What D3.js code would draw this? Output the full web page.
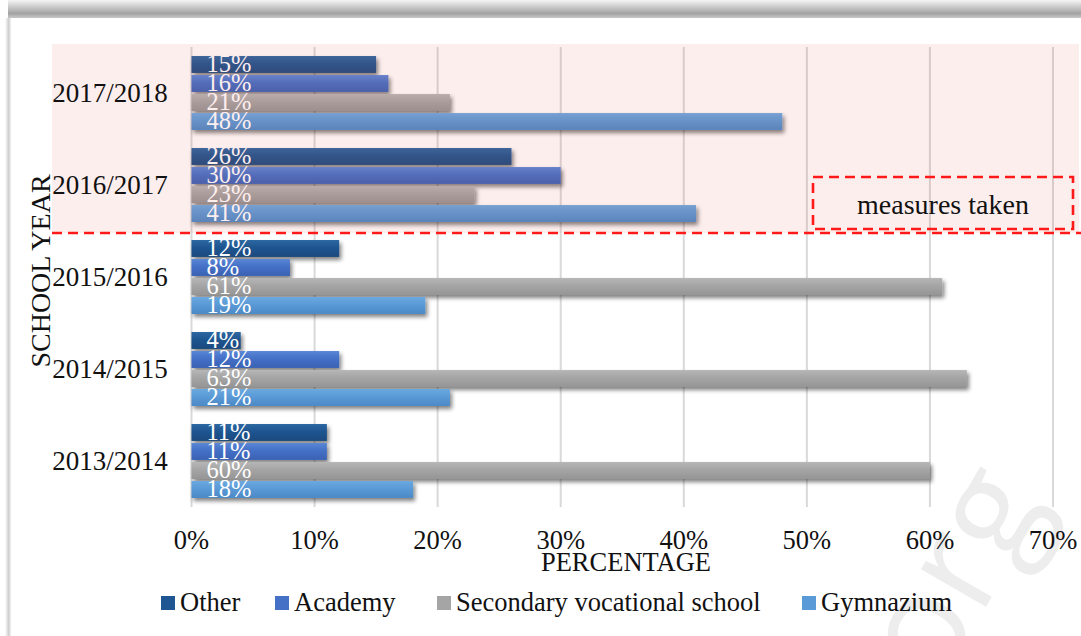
<!DOCTYPE html>
<html>
<head>
<meta charset="utf-8">
<script src="https://cdn.jsdelivr.net/npm/d3@7"></script>
<style>
  html, body { margin: 0; padding: 0; background: #fff; }
  svg { display: block; }
  text.serif { font-family: "Liberation Serif", "Times New Roman", serif; }
</style>
</head>
<body>
<svg id="chart" width="1081" height="636"></svg>
<script>
// School years, listed oldest first
const years = ["2013/2014", "2014/2015", "2015/2016", "2016/2017", "2017/2018"];
// Share of pupils per school type, in percent
const other      = [11, 4, 12, 26, 15];
const academy    = [11, 12, 8, 30, 16];
const vocational = [60, 63, 61, 23, 21];
const gymnazium  = [18, 21, 19, 41, 48];

const seriesNames  = ["Other", "Academy", "Secondary vocational school", "Gymnazium"];
const seriesValues = [other, academy, vocational, gymnazium];
const tickValues   = [0, 10, 20, 30, 40, 50, 60, 70];
const highlightedYears = ["2016/2017", "2017/2018"];
const noteText = "measures taken";

const colors = {
  "Other":                       ["#2c67a0", "#1f5590", "#1a4a7e"],
  "Academy":                     ["#5a86d6", "#4470c6", "#3a62b3"],
  "Secondary vocational school": ["#b6b6b6", "#a5a5a5", "#959595"],
  "Gymnazium":                   ["#6aa8e0", "#5a9ad6", "#4b89c6"]
};

const svg = d3.select("#chart");
const defs = svg.append("defs");

// frame: soft grey band on top and thin shadow line on the left
const topGrad = defs.append("linearGradient").attr("id", "topband")
  .attr("x1", 0).attr("y1", 0).attr("x2", 0).attr("y2", 1);
topGrad.append("stop").attr("offset", "0%").attr("stop-color", "#f4f4f4");
topGrad.append("stop").attr("offset", "75%").attr("stop-color", "#a2a2a2");
topGrad.append("stop").attr("offset", "100%").attr("stop-color", "#c8c8c8");
const leftGrad = defs.append("linearGradient").attr("id", "leftband")
  .attr("x1", 0).attr("y1", 0).attr("x2", 1).attr("y2", 0);
leftGrad.append("stop").attr("offset", "0%").attr("stop-color", "#ffffff");
leftGrad.append("stop").attr("offset", "60%").attr("stop-color", "#cfcfcf");
leftGrad.append("stop").attr("offset", "100%").attr("stop-color", "#f2f2f2");

// bar gradients
seriesNames.forEach((name, i) => {
  const g = defs.append("linearGradient").attr("id", "bar" + i)
    .attr("x1", 0).attr("y1", 0).attr("x2", 0).attr("y2", 1);
  g.append("stop").attr("offset", "0%").attr("stop-color", colors[name][0]);
  g.append("stop").attr("offset", "45%").attr("stop-color", colors[name][1]);
  g.append("stop").attr("offset", "100%").attr("stop-color", colors[name][2]);
});

// drop shadow under bars
const shadow = defs.append("filter").attr("id", "shadow")
  .attr("x", "-5%").attr("y", "-30%").attr("width", "115%").attr("height", "180%");
shadow.append("feGaussianBlur").attr("in", "SourceAlpha").attr("stdDeviation", 2).attr("result", "blur");
shadow.append("feOffset").attr("in", "blur").attr("dx", 2).attr("dy", 3).attr("result", "off");
shadow.append("feComponentTransfer").attr("in", "off").attr("result", "shade")
  .append("feFuncA").attr("type", "linear").attr("slope", 0.5);
const merge = shadow.append("feMerge");
merge.append("feMergeNode").attr("in", "shade");
merge.append("feMergeNode").attr("in", "SourceGraphic");

// watermark
svg.append("text")
  .attr("transform", "translate(938,690) rotate(-60)")
  .style("font-family", "'Open Sans', sans-serif")
  .attr("font-size", 140)
  .attr("fill", "#ededed")
  .text("org");

svg.append("rect").attr("x", 8).attr("y", 0).attr("width", 1073).attr("height", 18).attr("fill", "url(#topband)");
svg.append("rect").attr("x", 5).attr("y", 18).attr("width", 6).attr("height", 618).attr("fill", "url(#leftband)");

// scales
const x = d3.scaleLinear().domain([0, 70]).range([191.5, 1053]);
const y = d3.scaleBand().domain(years.slice().reverse()).range([47, 507])
  .paddingInner(0.196).paddingOuter(0.098);
const ySub = d3.scaleBand().domain(seriesNames).range([0, y.bandwidth()]).paddingInner(0.11);

// gridlines
svg.append("g").selectAll("line").data(tickValues).join("line")
  .attr("x1", d => x(d)).attr("x2", d => x(d))
  .attr("y1", 47).attr("y2", 507)
  .attr("stroke", "#d9d9d9").attr("stroke-width", 2);

// bars
const groups = svg.append("g").selectAll("g").data(years).join("g")
  .attr("transform", d => `translate(0,${y(d)})`);

groups.selectAll("rect")
  .data(yr => seriesNames.map((s, si) => ({ s, si, v: seriesValues[si][years.indexOf(yr)] })))
  .join("rect")
  .attr("x", x(0))
  .attr("y", d => ySub(d.s))
  .attr("width", d => x(d.v) - x(0))
  .attr("height", ySub.bandwidth())
  .attr("fill", d => `url(#bar${d.si})`)
  .attr("filter", "url(#shadow)");

// tinted area marking the years after the measures
const hlBottom = y(highlightedYears[0]) + y.bandwidth() + y.step() * y.paddingInner() * 0.5 + 2;
svg.append("rect")
  .attr("x", 52).attr("y", 44).attr("width", 1027).attr("height", hlBottom - 44)
  .attr("fill", "rgb(235,85,85)").attr("fill-opacity", 0.1);

svg.append("line")
  .attr("x1", 52).attr("x2", 1081).attr("y1", hlBottom).attr("y2", hlBottom)
  .attr("stroke", "#ff1a1a").attr("stroke-width", 2.6).attr("stroke-dasharray", "10,6");

// value labels at the base of each bar
groups.selectAll("text.val")
  .data(yr => seriesNames.map((s, si) => ({ s, v: seriesValues[si][years.indexOf(yr)] })))
  .join("text").attr("class", "val serif")
  .attr("x", x(0) + 15)
  .attr("y", d => ySub(d.s) + ySub.bandwidth() - 0.5)
  .attr("font-size", 24.5)
  .attr("fill", "#ffffff")
  .text(d => d.v + "%");

// category labels
svg.append("g").selectAll("text").data(years).join("text").attr("class", "serif")
  .attr("x", 110).attr("y", d => y(d) + y.bandwidth() / 2 + 9)
  .attr("text-anchor", "middle").attr("font-size", 27).attr("fill", "#111")
  .text(d => d);

// x tick labels
svg.append("g").selectAll("text").data(tickValues).join("text").attr("class", "serif")
  .attr("x", d => x(d)).attr("y", 549)
  .attr("text-anchor", "middle").attr("font-size", 26.5).attr("fill", "#111")
  .text(d => d + "%");

// axis titles
svg.append("text").attr("class", "serif").attr("x", 626).attr("y", 571)
  .attr("text-anchor", "middle").attr("font-size", 26.5).attr("fill", "#111")
  .text("PERCENTAGE");
svg.append("text").attr("class", "serif").attr("transform", "translate(50,271) rotate(-90)")
  .attr("text-anchor", "middle").attr("font-size", 28).attr("fill", "#111")
  .text("SCHOOL YEAR");

// note box
svg.append("rect")
  .attr("x", 813).attr("y", 177).attr("width", 260).attr("height", 52)
  .attr("fill", "none").attr("stroke", "#ff1a1a").attr("stroke-width", 2.6)
  .attr("stroke-dasharray", "10,6");
svg.append("text").attr("class", "serif").attr("x", 943).attr("y", 214)
  .attr("text-anchor", "middle").attr("font-size", 28).attr("fill", "#111")
  .text(noteText);

// legend
const legendX = [161, 275, 437, 802];
const legend = svg.append("g").selectAll("g").data(seriesNames).join("g")
  .attr("transform", (d, i) => `translate(${legendX[i]},0)`);
legend.append("rect").attr("x", 0).attr("y", 596).attr("width", 14).attr("height", 14)
  .attr("fill", (d, i) => colors[d][1]);
legend.append("text").attr("class", "serif").attr("x", 19).attr("y", 611)
  .attr("font-size", 26.5).attr("fill", "#111")
  .text(d => d);
</script>
</body>
</html>
